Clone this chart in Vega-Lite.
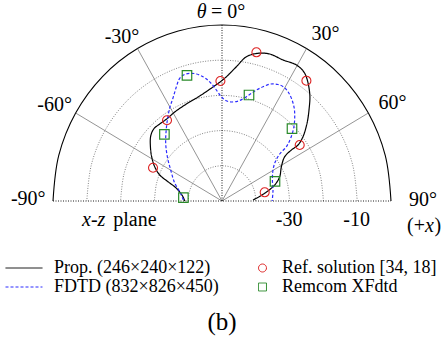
{
  "$schema": "https://vega.github.io/schema/vega-lite/v6.json",
  "width": 338,
  "height": 176,
  "autosize": "none",
  "padding": {"left": 53, "top": 25, "right": 50, "bottom": 149},
  "config": {
    "view": {"stroke": null},
    "text": {"font": "Liberation Serif", "fontSize": 20, "color": "#000"},
    "legend": {
      "orient": "none",
      "legendX": -39,
      "legendY": 233,
      "columns": 2,
      "columnPadding": 23,
      "rowPadding": 0,
      "labelFont": "Liberation Serif",
      "labelFontSize": 18,
      "labelColor": "#000",
      "labelLimit": 400,
      "labelOffset": 20,
      "symbolSize": 342,
      "symbolStrokeWidth": 1
    }
  },
  "datasets": {
    "rings": [
      {"ring": 10, "i": 0, "x": 10, "y": 0}, {"ring": 10, "i": 1, "x": 9.659, "y": 2.588}, {"ring": 10, "i": 2, "x": 8.660, "y": 5}, {"ring": 10, "i": 3, "x": 7.071, "y": 7.071}, {"ring": 10, "i": 4, "x": 5, "y": 8.660}, {"ring": 10, "i": 5, "x": 2.588, "y": 9.659}, {"ring": 10, "i": 6, "x": 0, "y": 10}, {"ring": 10, "i": 7, "x": -2.588, "y": 9.659}, {"ring": 10, "i": 8, "x": -5, "y": 8.660}, {"ring": 10, "i": 9, "x": -7.071, "y": 7.071}, {"ring": 10, "i": 10, "x": -8.660, "y": 5}, {"ring": 10, "i": 11, "x": -9.659, "y": 2.588}, {"ring": 10, "i": 12, "x": -10, "y": 0},
      {"ring": 20, "i": 0, "x": 20, "y": 0}, {"ring": 20, "i": 1, "x": 19.319, "y": 5.176}, {"ring": 20, "i": 2, "x": 17.321, "y": 10}, {"ring": 20, "i": 3, "x": 14.142, "y": 14.142}, {"ring": 20, "i": 4, "x": 10, "y": 17.321}, {"ring": 20, "i": 5, "x": 5.176, "y": 19.319}, {"ring": 20, "i": 6, "x": 0, "y": 20}, {"ring": 20, "i": 7, "x": -5.176, "y": 19.319}, {"ring": 20, "i": 8, "x": -10, "y": 17.321}, {"ring": 20, "i": 9, "x": -14.142, "y": 14.142}, {"ring": 20, "i": 10, "x": -17.321, "y": 10}, {"ring": 20, "i": 11, "x": -19.319, "y": 5.176}, {"ring": 20, "i": 12, "x": -20, "y": 0},
      {"ring": 30, "i": 0, "x": 30, "y": 0}, {"ring": 30, "i": 1, "x": 28.978, "y": 7.765}, {"ring": 30, "i": 2, "x": 25.981, "y": 15}, {"ring": 30, "i": 3, "x": 21.213, "y": 21.213}, {"ring": 30, "i": 4, "x": 15, "y": 25.981}, {"ring": 30, "i": 5, "x": 7.765, "y": 28.978}, {"ring": 30, "i": 6, "x": 0, "y": 30}, {"ring": 30, "i": 7, "x": -7.765, "y": 28.978}, {"ring": 30, "i": 8, "x": -15, "y": 25.981}, {"ring": 30, "i": 9, "x": -21.213, "y": 21.213}, {"ring": 30, "i": 10, "x": -25.981, "y": 15}, {"ring": 30, "i": 11, "x": -28.978, "y": 7.765}, {"ring": 30, "i": 12, "x": -30, "y": 0},
      {"ring": 40, "i": 0, "x": 40, "y": 0}, {"ring": 40, "i": 1, "x": 38.637, "y": 10.353}, {"ring": 40, "i": 2, "x": 34.641, "y": 20}, {"ring": 40, "i": 3, "x": 28.284, "y": 28.284}, {"ring": 40, "i": 4, "x": 20, "y": 34.641}, {"ring": 40, "i": 5, "x": 10.353, "y": 38.637}, {"ring": 40, "i": 6, "x": 0, "y": 40}, {"ring": 40, "i": 7, "x": -10.353, "y": 38.637}, {"ring": 40, "i": 8, "x": -20, "y": 34.641}, {"ring": 40, "i": 9, "x": -28.284, "y": 28.284}, {"ring": 40, "i": 10, "x": -34.641, "y": 20}, {"ring": 40, "i": 11, "x": -38.637, "y": 10.353}, {"ring": 40, "i": 12, "x": -40, "y": 0}
    ],
    "outer": [
      {"ring": 50, "i": 0, "x": 50, "y": 0}, {"ring": 50, "i": 1, "x": 48.296, "y": 12.941}, {"ring": 50, "i": 2, "x": 43.301, "y": 25}, {"ring": 50, "i": 3, "x": 35.355, "y": 35.355}, {"ring": 50, "i": 4, "x": 25, "y": 43.301}, {"ring": 50, "i": 5, "x": 12.941, "y": 48.296}, {"ring": 50, "i": 6, "x": 0, "y": 50}, {"ring": 50, "i": 7, "x": -12.941, "y": 48.296}, {"ring": 50, "i": 8, "x": -25, "y": 43.301}, {"ring": 50, "i": 9, "x": -35.355, "y": 35.355}, {"ring": 50, "i": 10, "x": -43.301, "y": 25}, {"ring": 50, "i": 11, "x": -48.296, "y": 12.941}, {"ring": 50, "i": 12, "x": -50, "y": 0}
    ],
    "spokes": [
      {"angle": -60, "sx": 0, "sy": 0, "ex": -43.30, "ey": 25},
      {"angle": -30, "sx": 0, "sy": 0, "ex": -25, "ey": 43.30},
      {"angle": 30, "sx": 0, "sy": 0, "ex": 25, "ey": 43.30},
      {"angle": 60, "sx": 0, "sy": 0, "ex": 43.30, "ey": 25}
    ],
    "dotted": [
      {"sx": 0, "sy": 0, "ex": 0, "ey": 50},
      {"sx": -50, "sy": 0, "ex": 50, "ey": 0}
    ],
    "curves": [
      {"series": "Prop. (246×240×122)", "i": 1, "x": 9.17, "y": 0.28},
      {"series": "Prop. (246×240×122)", "i": 2, "x": 12.63, "y": 2.19},
      {"series": "Prop. (246×240×122)", "i": 3, "x": 15.59, "y": 4.55},
      {"series": "Prop. (246×240×122)", "i": 4, "x": 17.07, "y": 6.90},
      {"series": "Prop. (246×240×122)", "i": 5, "x": 17.57, "y": 9.74},
      {"series": "Prop. (246×240×122)", "i": 6, "x": 18.55, "y": 12.59},
      {"series": "Prop. (246×240×122)", "i": 7, "x": 20.53, "y": 14.49},
      {"series": "Prop. (246×240×122)", "i": 8, "x": 22.49, "y": 15.91},
      {"series": "Prop. (246×240×122)", "i": 9, "x": 23.96, "y": 18.27},
      {"series": "Prop. (246×240×122)", "i": 10, "x": 25.15, "y": 22.07},
      {"series": "Prop. (246×240×122)", "i": 11, "x": 25.74, "y": 25.85},
      {"series": "Prop. (246×240×122)", "i": 12, "x": 25.95, "y": 30.60},
      {"series": "Prop. (246×240×122)", "i": 13, "x": 24.47, "y": 36.28},
      {"series": "Prop. (246×240×122)", "i": 14, "x": 22.01, "y": 38.64},
      {"series": "Prop. (246×240×122)", "i": 15, "x": 18.05, "y": 40.06},
      {"series": "Prop. (246×240×122)", "i": 16, "x": 14.11, "y": 41.76},
      {"series": "Prop. (246×240×122)", "i": 17, "x": 10.65, "y": 41.96},
      {"series": "Prop. (246×240×122)", "i": 18, "x": 7.22, "y": 40.99},
      {"series": "Prop. (246×240×122)", "i": 19, "x": 4.26, "y": 38.15},
      {"series": "Prop. (246×240×122)", "i": 20, "x": 1.30, "y": 35.31},
      {"series": "Prop. (246×240×122)", "i": 21, "x": -0.47, "y": 33.89},
      {"series": "Prop. (246×240×122)", "i": 22, "x": -2.66, "y": 32.39},
      {"series": "Prop. (246×240×122)", "i": 23, "x": -6.60, "y": 29.83},
      {"series": "Prop. (246×240×122)", "i": 24, "x": -10.53, "y": 27.56},
      {"series": "Prop. (246×240×122)", "i": 25, "x": -13.99, "y": 25.28},
      {"series": "Prop. (246×240×122)", "i": 26, "x": -16.36, "y": 23.30},
      {"series": "Prop. (246×240×122)", "i": 27, "x": -18.43, "y": 21.88},
      {"series": "Prop. (246×240×122)", "i": 28, "x": -20.21, "y": 20.45},
      {"series": "Prop. (246×240×122)", "i": 29, "x": -21.09, "y": 18.47},
      {"series": "Prop. (246×240×122)", "i": 30, "x": -21.18, "y": 15.43},
      {"series": "Prop. (246×240×122)", "i": 31, "x": -20.80, "y": 12.50},
      {"series": "Prop. (246×240×122)", "i": 32, "x": -19.91, "y": 9.74},
      {"series": "Prop. (246×240×122)", "i": 33, "x": -18.43, "y": 7.39},
      {"series": "Prop. (246×240×122)", "i": 34, "x": -15.98, "y": 5.48},
      {"series": "Prop. (246×240×122)", "i": 35, "x": -13.49, "y": 3.61},
      {"series": "Prop. (246×240×122)", "i": 36, "x": -11.54, "y": 1.22},
      {"series": "Prop. (246×240×122)", "i": 37, "x": -11.04, "y": 0},
      {"series": "FDTD (832×826×450)", "i": 1, "x": -11.42, "y": 0.28},
      {"series": "FDTD (832×826×450)", "i": 2, "x": -12.51, "y": 2.64},
      {"series": "FDTD (832×826×450)", "i": 3, "x": -13.99, "y": 5.11},
      {"series": "FDTD (832×826×450)", "i": 4, "x": -15.18, "y": 8.81},
      {"series": "FDTD (832×826×450)", "i": 5, "x": -16.21, "y": 12.78},
      {"series": "FDTD (832×826×450)", "i": 6, "x": -16.66, "y": 16.48},
      {"series": "FDTD (832×826×450)", "i": 7, "x": -16.51, "y": 20.17},
      {"series": "FDTD (832×826×450)", "i": 8, "x": -16.07, "y": 23.58},
      {"series": "FDTD (832×826×450)", "i": 9, "x": -15.47, "y": 26.42},
      {"series": "FDTD (832×826×450)", "i": 10, "x": -14.50, "y": 29.26},
      {"series": "FDTD (832×826×450)", "i": 11, "x": -13.49, "y": 32.47},
      {"series": "FDTD (832×826×450)", "i": 12, "x": -12.51, "y": 34.86},
      {"series": "FDTD (832×826×450)", "i": 13, "x": -11.04, "y": 35.94},
      {"series": "FDTD (832×826×450)", "i": 14, "x": -9.26, "y": 36.28},
      {"series": "FDTD (832×826×450)", "i": 15, "x": -7.49, "y": 36.08},
      {"series": "FDTD (832×826×450)", "i": 16, "x": -5.62, "y": 35.31},
      {"series": "FDTD (832×826×450)", "i": 17, "x": -4.23, "y": 34.37},
      {"series": "FDTD (832×826×450)", "i": 18, "x": -3.05, "y": 33.24},
      {"series": "FDTD (832×826×450)", "i": 19, "x": -1.66, "y": 31.53},
      {"series": "FDTD (832×826×450)", "i": 20, "x": -0.38, "y": 29.83},
      {"series": "FDTD (832×826×450)", "i": 21, "x": 1.09, "y": 28.55},
      {"series": "FDTD (832×826×450)", "i": 22, "x": 2.87, "y": 28.13},
      {"series": "FDTD (832×826×450)", "i": 23, "x": 5.24, "y": 28.55},
      {"series": "FDTD (832×826×450)", "i": 24, "x": 7.99, "y": 30.11},
      {"series": "FDTD (832×826×450)", "i": 25, "x": 9.97, "y": 31.39},
      {"series": "FDTD (832×826×450)", "i": 26, "x": 12.13, "y": 32.47},
      {"series": "FDTD (832×826×450)", "i": 27, "x": 14.41, "y": 33.24},
      {"series": "FDTD (832×826×450)", "i": 28, "x": 16.57, "y": 33.10},
      {"series": "FDTD (832×826×450)", "i": 29, "x": 18.25, "y": 32.39},
      {"series": "FDTD (832×826×450)", "i": 30, "x": 19.53, "y": 31.05},
      {"series": "FDTD (832×826×450)", "i": 31, "x": 20.62, "y": 28.98},
      {"series": "FDTD (832×826×450)", "i": 32, "x": 21.36, "y": 26.42},
      {"series": "FDTD (832×826×450)", "i": 33, "x": 21.51, "y": 23.58},
      {"series": "FDTD (832×826×450)", "i": 34, "x": 21.21, "y": 20.74},
      {"series": "FDTD (832×826×450)", "i": 35, "x": 20.33, "y": 17.90},
      {"series": "FDTD (832×826×450)", "i": 36, "x": 19.05, "y": 15.43},
      {"series": "FDTD (832×826×450)", "i": 37, "x": 17.07, "y": 13.35},
      {"series": "FDTD (832×826×450)", "i": 38, "x": 15.74, "y": 11.08},
      {"series": "FDTD (832×826×450)", "i": 39, "x": 15.09, "y": 8.81},
      {"series": "FDTD (832×826×450)", "i": 40, "x": 14.91, "y": 5.97},
      {"series": "FDTD (832×826×450)", "i": 41, "x": 15.09, "y": 3.12},
      {"series": "FDTD (832×826×450)", "i": 42, "x": 14.85, "y": 0}
    ],
    "ref": [
      {"series": "Ref. solution [34, 18]", "x": 10.18, "y": 42.24},
      {"series": "Ref. solution [34, 18]", "x": -0.47, "y": 34.09},
      {"series": "Ref. solution [34, 18]", "x": 24.97, "y": 34.18},
      {"series": "Ref. solution [34, 18]", "x": -16.27, "y": 22.93},
      {"series": "Ref. solution [34, 18]", "x": 22.99, "y": 15.91},
      {"series": "Ref. solution [34, 18]", "x": -20.41, "y": 9.46},
      {"series": "Ref. solution [34, 18]", "x": 12.63, "y": 2.47}
    ],
    "remcom": [
      {"series": "Remcom XFdtd", "x": -10.36, "y": 35.71},
      {"series": "Remcom XFdtd", "x": 7.99, "y": 30.11},
      {"series": "Remcom XFdtd", "x": -17.04, "y": 18.95},
      {"series": "Remcom XFdtd", "x": 20.71, "y": 20.54},
      {"series": "Remcom XFdtd", "x": 15.68, "y": 5.60},
      {"series": "Remcom XFdtd", "x": -11.42, "y": 0.94}
    ],
    "labelsCenter": [
      {"text": "-30°", "x": -29.59, "y": 46.68},
      {"text": "30°", "x": 30.62, "y": 47.44},
      {"text": "-60°", "x": -49.5, "y": 27.27},
      {"text": "60°", "x": 50.44, "y": 27.98},
      {"text": "-90°", "x": -57.31, "y": 0.57},
      {"text": "90°", "x": 59.47, "y": 0.28},
      {"text": "-30", "x": 19.88, "y": -5.5},
      {"text": "-10", "x": 39.85, "y": -5.5}
    ],
    "labelsLeft": [
      {"text": "= 0°", "x": -3.25, "y": 53.69},
      {"text": "plane", "x": -32.16, "y": -5.5},
      {"text": "(+", "x": 54.73, "y": -7.10},
      {"text": ")", "x": 62.9, "y": -7.10}
    ],
    "labelsItalic": [
      {"text": "θ", "x": -7.49, "y": 53.69},
      {"text": "x-z", "x": -41.42, "y": -5.5},
      {"text": "x", "x": 60.06, "y": -7.10}
    ],
    "caption": [{"text": "(b)", "x": 0, "y": -34.38}]
  },
  "layer": [
    {
      "data": {"name": "rings"},
      "mark": {"type": "line", "interpolate": "catmull-rom", "stroke": "#666", "strokeWidth": 0.8, "strokeDash": [1, 1.5]},
      "encoding": {
        "x": {"field": "x", "type": "quantitative", "scale": {"domain": [-50, 50], "nice": false, "zero": false}, "axis": null},
        "y": {"field": "y", "type": "quantitative", "scale": {"domain": [0, 50], "nice": false, "zero": false}, "axis": null},
        "detail": {"field": "ring", "type": "nominal"},
        "order": {"field": "i", "type": "quantitative"}
      }
    },
    {
      "data": {"name": "outer"},
      "mark": {"type": "line", "interpolate": "catmull-rom", "stroke": "#000", "strokeWidth": 1.1},
      "encoding": {
        "x": {"field": "x", "type": "quantitative", "scale": {"domain": [-50, 50], "nice": false, "zero": false}, "axis": null},
        "y": {"field": "y", "type": "quantitative", "scale": {"domain": [0, 50], "nice": false, "zero": false}, "axis": null},
        "order": {"field": "i", "type": "quantitative"}
      }
    },
    {
      "data": {"name": "spokes"},
      "mark": {"type": "rule", "stroke": "#666", "strokeWidth": 0.7},
      "encoding": {
        "x": {"field": "sx", "type": "quantitative", "scale": {"domain": [-50, 50], "nice": false, "zero": false}, "axis": null},
        "y": {"field": "sy", "type": "quantitative", "scale": {"domain": [0, 50], "nice": false, "zero": false}, "axis": null},
        "x2": {"field": "ex"},
        "y2": {"field": "ey"}
      }
    },
    {
      "data": {"name": "dotted"},
      "mark": {"type": "rule", "stroke": "#000", "strokeWidth": 0.9, "strokeDash": [1, 1.5]},
      "encoding": {
        "x": {"field": "sx", "type": "quantitative", "scale": {"domain": [-50, 50], "nice": false, "zero": false}, "axis": null},
        "y": {"field": "sy", "type": "quantitative", "scale": {"domain": [0, 50], "nice": false, "zero": false}, "axis": null},
        "x2": {"field": "ex"},
        "y2": {"field": "ey"}
      }
    },
    {
      "data": {"name": "curves"},
      "mark": {"type": "line", "interpolate": "catmull-rom", "strokeWidth": 1.2},
      "encoding": {
        "x": {"field": "x", "type": "quantitative", "scale": {"domain": [-50, 50], "nice": false, "zero": false}, "axis": null},
        "y": {"field": "y", "type": "quantitative", "scale": {"domain": [0, 50], "nice": false, "zero": false}, "axis": null},
        "order": {"field": "i", "type": "quantitative"},
        "color": {"field": "series", "type": "nominal", "title": null, "scale": {"domain": ["Prop. (246×240×122)", "FDTD (832×826×450)", "Ref. solution [34, 18]", "Remcom XFdtd"], "range": ["#000000", "#2b2bff", "#dd2222", "#2a8a2a"]}},
        "strokeDash": {"field": "series", "type": "nominal", "title": null, "scale": {"domain": ["Prop. (246×240×122)", "FDTD (832×826×450)", "Ref. solution [34, 18]", "Remcom XFdtd"], "range": [[1, 0], [3, 2], [1, 0], [1, 0]]}}
      }
    },
    {
      "data": {"name": "ref"},
      "mark": {"type": "point", "shape": "circle", "filled": false, "size": 81, "strokeWidth": 1.1, "opacity": 1},
      "encoding": {
        "x": {"field": "x", "type": "quantitative", "scale": {"domain": [-50, 50], "nice": false, "zero": false}, "axis": null},
        "y": {"field": "y", "type": "quantitative", "scale": {"domain": [0, 50], "nice": false, "zero": false}, "axis": null},
        "color": {"field": "series", "type": "nominal", "title": null, "scale": {"domain": ["Prop. (246×240×122)", "FDTD (832×826×450)", "Ref. solution [34, 18]", "Remcom XFdtd"], "range": ["#000000", "#2b2bff", "#dd2222", "#2a8a2a"]}}
      }
    },
    {
      "data": {"name": "remcom"},
      "mark": {"type": "point", "shape": "square", "filled": false, "size": 90, "strokeWidth": 1.2, "opacity": 1},
      "encoding": {
        "x": {"field": "x", "type": "quantitative", "scale": {"domain": [-50, 50], "nice": false, "zero": false}, "axis": null},
        "y": {"field": "y", "type": "quantitative", "scale": {"domain": [0, 50], "nice": false, "zero": false}, "axis": null},
        "color": {"field": "series", "type": "nominal", "title": null, "scale": {"domain": ["Prop. (246×240×122)", "FDTD (832×826×450)", "Ref. solution [34, 18]", "Remcom XFdtd"], "range": ["#000000", "#2b2bff", "#dd2222", "#2a8a2a"]}}
      }
    },
    {
      "data": {"values": []},
      "mark": {"type": "point", "filled": false, "opacity": 1},
      "encoding": {
        "shape": {"field": "series", "type": "nominal", "title": null, "scale": {"domain": ["Prop. (246×240×122)", "FDTD (832×826×450)", "Ref. solution [34, 18]", "Remcom XFdtd"], "range": ["M-2,0H2", "M-2,0H2", "M1.565,0A0.43,0.43,0,1,1,0.705,0A0.43,0.43,0,1,1,1.565,0Z", "M0.705,-0.43H1.565V0.43H0.705Z"]}}
      }
    },
    {
      "data": {"name": "labelsCenter"},
      "mark": {"type": "text", "align": "center", "baseline": "middle"},
      "encoding": {
        "x": {"field": "x", "type": "quantitative", "scale": {"domain": [-50, 50], "nice": false, "zero": false}, "axis": null},
        "y": {"field": "y", "type": "quantitative", "scale": {"domain": [0, 50], "nice": false, "zero": false}, "axis": null},
        "text": {"field": "text", "type": "nominal"}
      }
    },
    {
      "data": {"name": "labelsLeft"},
      "mark": {"type": "text", "align": "left", "baseline": "middle"},
      "encoding": {
        "x": {"field": "x", "type": "quantitative", "scale": {"domain": [-50, 50], "nice": false, "zero": false}, "axis": null},
        "y": {"field": "y", "type": "quantitative", "scale": {"domain": [0, 50], "nice": false, "zero": false}, "axis": null},
        "text": {"field": "text", "type": "nominal"}
      }
    },
    {
      "data": {"name": "labelsItalic"},
      "mark": {"type": "text", "align": "left", "baseline": "middle", "fontStyle": "italic"},
      "encoding": {
        "x": {"field": "x", "type": "quantitative", "scale": {"domain": [-50, 50], "nice": false, "zero": false}, "axis": null},
        "y": {"field": "y", "type": "quantitative", "scale": {"domain": [0, 50], "nice": false, "zero": false}, "axis": null},
        "text": {"field": "text", "type": "nominal"}
      }
    },
    {
      "data": {"name": "caption"},
      "mark": {"type": "text", "align": "center", "baseline": "middle", "fontSize": 25},
      "encoding": {
        "x": {"field": "x", "type": "quantitative", "scale": {"domain": [-50, 50], "nice": false, "zero": false}, "axis": null},
        "y": {"field": "y", "type": "quantitative", "scale": {"domain": [0, 50], "nice": false, "zero": false}, "axis": null},
        "text": {"field": "text", "type": "nominal"}
      }
    }
  ]
}
